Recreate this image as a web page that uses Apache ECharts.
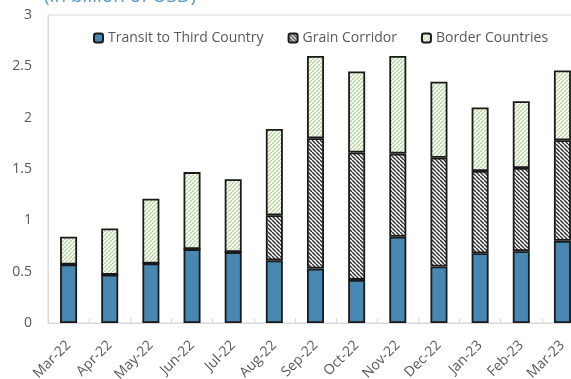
<!DOCTYPE html>
<html>
<head>
<meta charset="utf-8">
<script src="https://cdn.jsdelivr.net/npm/echarts@6/dist/echarts.min.js"></script>
<style>
  html, body { margin: 0; padding: 0; background: #fff; }
  #chart { width: 571px; height: 379px; }
</style>
</head>
<body>
<div id="chart"></div>
<script>
// Monthly exports by route, billion USD
const months = ['Mar-22', 'Apr-22', 'May-22', 'Jun-22', 'Jul-22', 'Aug-22', 'Sep-22',
                'Oct-22', 'Nov-22', 'Dec-22', 'Jan-23', 'Feb-23', 'Mar-23'];
const transitThirdCountry = [0.57, 0.47, 0.58, 0.72, 0.69, 0.61, 0.53, 0.42, 0.84, 0.55, 0.68, 0.70, 0.80];
const grainCorridor       = [0,    0,    0,    0,    0,    0.44, 1.27, 1.24, 0.81, 1.06, 0.80, 0.81, 0.98];
const borderCountries     = [0.27, 0.45, 0.63, 0.75, 0.71, 0.84, 0.80, 0.79, 0.95, 0.74, 0.62, 0.65, 0.68];
const yTicks = [0, 0.5, 1, 1.5, 2, 2.5, 3];

const FONT = '"Open Sans", "Noto Sans", sans-serif';
const TEXT = '#595959';

// Hatch fills drawn on small tiles
function hatch(lineColor, forward, step, width) {
  const c = document.createElement('canvas');
  c.width = step; c.height = step;
  const g = c.getContext('2d');
  g.fillStyle = '#ffffff';
  g.fillRect(0, 0, step, step);
  g.strokeStyle = lineColor;
  g.lineWidth = width;
  g.beginPath();
  for (let k = -1; k <= 1; k++) {
    if (forward) {
      g.moveTo(k * step, step); g.lineTo(k * step + step, 0);
    } else {
      g.moveTo(k * step, 0); g.lineTo(k * step + step, step);
    }
  }
  g.stroke();
  return { image: c, repeat: 'repeat' };
}

const grainFill = hatch('#2e2e2e', false, 4, 1.4);
const borderFill = hatch('#a9d18e', true, 4, 1.2);

const barBase = {
  type: 'bar',
  stack: 'total',
  barWidth: 17,
  itemStyle: { borderColor: '#1a1a1a', borderWidth: 1.8 }
};

const chart = echarts.init(document.getElementById('chart'), null, { renderer: 'canvas' });
chart.setOption({
  animation: false,
  backgroundColor: '#ffffff',
  textStyle: { fontFamily: FONT },
  graphic: [{
    type: 'text',
    left: 44,
    top: -13,
    style: { text: '(in billion of USD)', fill: '#5a9ac8', font: '19px ' + FONT }
  }],
  legend: {
    top: 26,
    left: 88,
    itemWidth: 9,
    itemHeight: 9,
    itemGap: 24,
    textStyle: { color: TEXT, fontSize: 14, fontFamily: FONT },
    data: ['Transit to Third Country', 'Grain Corridor', 'Border Countries']
  },
  grid: {
    left: 48,
    width: 535,
    top: 15,
    bottom: 56,
    outerBoundsMode: 'none',
    containLabel: false,
    show: true,
    borderColor: '#d9d9d9',
    borderWidth: 1
  },
  xAxis: {
    type: 'category',
    data: months,
    axisLine: { lineStyle: { color: '#d9d9d9', width: 1 } },
    axisTick: { show: true, inside: true, length: 5, lineStyle: { color: '#d9d9d9' } },
    axisLabel: { rotate: 45, color: TEXT, fontSize: 14, fontFamily: FONT, margin: 20 }
  },
  yAxis: {
    type: 'value',
    min: yTicks[0],
    max: yTicks[yTicks.length - 1],
    interval: 0.5,
    axisLine: { show: true, lineStyle: { color: '#d9d9d9' } },
    axisTick: { show: false },
    splitLine: { show: false },
    axisLabel: { color: TEXT, fontSize: 14, fontFamily: FONT, margin: 16 }
  },
  series: [
    Object.assign({}, barBase, {
      name: 'Transit to Third Country',
      data: transitThirdCountry,
      itemStyle: Object.assign({}, barBase.itemStyle, { color: '#4787b2' })
    }),
    Object.assign({}, barBase, {
      name: 'Grain Corridor',
      data: grainCorridor,
      itemStyle: Object.assign({}, barBase.itemStyle, { color: grainFill })
    }),
    Object.assign({}, barBase, {
      name: 'Border Countries',
      data: borderCountries,
      itemStyle: Object.assign({}, barBase.itemStyle, { color: borderFill })
    })
  ]
});
</script>
</body>
</html>
